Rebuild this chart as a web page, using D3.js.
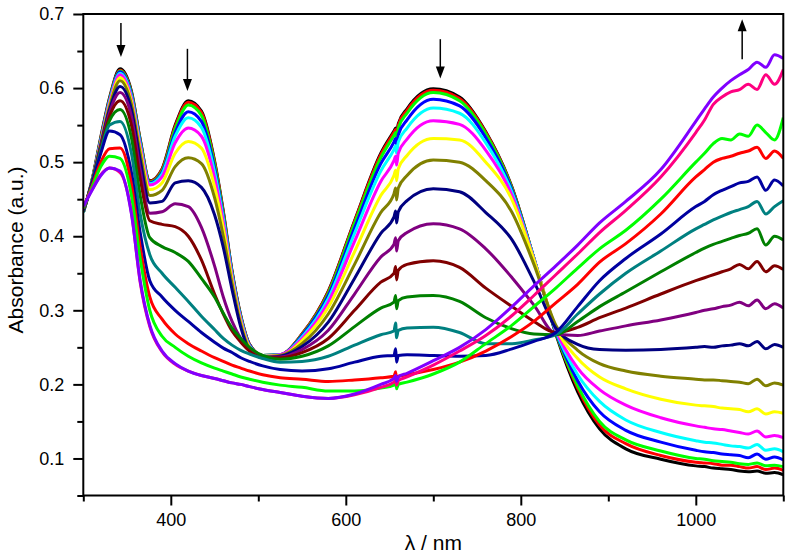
<!DOCTYPE html>
<html><head><meta charset="utf-8">
<script src="https://cdn.jsdelivr.net/npm/d3@7"></script>
<style>body{margin:0;background:#fff;} svg{display:block}</style>
</head><body><svg id="c" width="787" height="555"></svg>
<script>
// wavelength grid (nm)
const wavelengths = [300,310,320,330,342,355,365,376,390,405,420,435,450,460,470,480,490,505,525,550,580,610,640,
  655,657,658,660,
  670,700,730,760,790,815,840,865,890,920,960,
  1000,1010,1020,1030,1040,1050,1060,1070,1080,1090,1100];

// absorbance series (a.u.), in order of acquisition
const sBlack   = [0.432,0.476,0.534,0.587,0.626,0.596,0.531,0.475,0.491,0.550,0.583,0.569,0.502,0.434,0.353,0.293,0.254,0.239,0.240,0.268,0.326,0.421,0.512,
  0.542,0.546,0.538,0.552,
  0.572,0.599,0.588,0.541,0.466,0.370,0.268,0.190,0.140,0.113,0.099,
  0.090,0.089,0.087,0.086,0.085,0.083,0.082,0.083,0.080,0.081,0.078];
const sRed     = [0.432,0.475,0.532,0.585,0.624,0.594,0.530,0.474,0.490,0.548,0.581,0.567,0.500,0.432,0.352,0.292,0.254,0.239,0.240,0.268,0.325,0.420,0.510,
  0.540,0.544,0.536,0.550,
  0.570,0.597,0.586,0.540,0.465,0.370,0.270,0.195,0.145,0.120,0.104,
  0.095,0.094,0.093,0.091,0.091,0.089,0.087,0.089,0.085,0.087,0.084];
const sGreen   = [0.432,0.475,0.531,0.584,0.623,0.593,0.529,0.473,0.488,0.545,0.577,0.563,0.497,0.430,0.351,0.291,0.253,0.239,0.240,0.267,0.323,0.417,0.506,
  0.536,0.540,0.532,0.546,
  0.566,0.594,0.583,0.538,0.464,0.370,0.270,0.198,0.150,0.125,0.110,
  0.100,0.099,0.097,0.096,0.095,0.093,0.092,0.094,0.090,0.091,0.089];
const sBlue    = [0.432,0.474,0.530,0.583,0.622,0.591,0.527,0.472,0.486,0.540,0.568,0.555,0.492,0.427,0.350,0.290,0.253,0.239,0.240,0.266,0.320,0.411,0.498,
  0.527,0.532,0.522,0.537,
  0.557,0.585,0.576,0.533,0.462,0.370,0.271,0.205,0.163,0.138,0.122,
  0.111,0.109,0.108,0.106,0.105,0.104,0.101,0.106,0.099,0.102,0.098];
const sCyan    = [0.432,0.474,0.529,0.582,0.620,0.589,0.525,0.471,0.484,0.535,0.560,0.547,0.487,0.424,0.348,0.289,0.252,0.239,0.240,0.264,0.316,0.404,0.488,
  0.517,0.522,0.512,0.527,
  0.546,0.573,0.566,0.526,0.459,0.370,0.272,0.213,0.177,0.152,0.135,
  0.124,0.122,0.121,0.119,0.117,0.116,0.114,0.119,0.111,0.113,0.109];
const sMagenta = [0.433,0.474,0.528,0.580,0.618,0.586,0.522,0.469,0.480,0.526,0.546,0.535,0.479,0.419,0.345,0.287,0.251,0.238,0.240,0.262,0.311,0.393,0.474,
  0.502,0.508,0.496,0.512,
  0.531,0.556,0.551,0.516,0.455,0.369,0.274,0.222,0.193,0.172,0.155,
  0.144,0.142,0.140,0.139,0.137,0.135,0.133,0.137,0.129,0.131,0.128];
const sYellow  = [0.433,0.473,0.526,0.577,0.614,0.582,0.517,0.463,0.472,0.512,0.528,0.519,0.467,0.411,0.341,0.284,0.250,0.238,0.239,0.259,0.304,0.379,0.455,
  0.482,0.489,0.475,0.491,
  0.509,0.532,0.530,0.500,0.449,0.368,0.277,0.235,0.210,0.194,0.180,
  0.172,0.171,0.170,0.168,0.167,0.166,0.163,0.167,0.160,0.163,0.161];
const sDkYellow= [0.433,0.473,0.525,0.575,0.610,0.578,0.512,0.455,0.462,0.494,0.506,0.498,0.452,0.400,0.336,0.281,0.248,0.237,0.239,0.255,0.295,0.362,0.432,
  0.457,0.465,0.449,0.465,
  0.482,0.503,0.500,0.475,0.432,0.362,0.280,0.246,0.228,0.218,0.211,
  0.207,0.206,0.206,0.205,0.204,0.203,0.201,0.207,0.198,0.202,0.199];
const sNavy    = [0.434,0.473,0.523,0.571,0.602,0.571,0.503,0.445,0.447,0.472,0.475,0.466,0.429,0.385,0.328,0.277,0.246,0.236,0.238,0.251,0.284,0.343,0.404,
  0.426,0.434,0.418,0.433,
  0.448,0.464,0.460,0.432,0.395,0.339,0.276,0.254,0.247,0.246,0.247,
  0.250,0.251,0.250,0.252,0.253,0.255,0.252,0.258,0.248,0.254,0.250];
const sPurple  = [0.434,0.472,0.521,0.567,0.594,0.562,0.490,0.431,0.433,0.444,0.440,0.412,0.360,0.318,0.285,0.262,0.247,0.237,0.237,0.247,0.273,0.322,0.372,
  0.389,0.398,0.380,0.394,
  0.405,0.417,0.410,0.383,0.344,0.307,0.268,0.266,0.272,0.279,0.287,
  0.297,0.300,0.302,0.305,0.307,0.311,0.306,0.314,0.302,0.309,0.303];
const sWine    = [0.434,0.472,0.519,0.562,0.583,0.550,0.478,0.421,0.416,0.413,0.400,0.368,0.322,0.295,0.272,0.257,0.245,0.236,0.236,0.243,0.262,0.300,0.338,
  0.350,0.359,0.341,0.354,
  0.362,0.367,0.358,0.330,0.305,0.285,0.270,0.277,0.290,0.303,0.322,
  0.340,0.344,0.348,0.352,0.356,0.362,0.356,0.366,0.352,0.360,0.355];
const sOlive   = [0.434,0.472,0.517,0.556,0.571,0.533,0.455,0.398,0.386,0.378,0.366,0.343,0.318,0.296,0.276,0.262,0.250,0.239,0.234,0.238,0.252,0.278,0.303,
  0.311,0.320,0.302,0.313,
  0.318,0.320,0.312,0.290,0.275,0.268,0.267,0.285,0.305,0.325,0.352,
  0.378,0.384,0.389,0.393,0.397,0.401,0.404,0.410,0.388,0.400,0.395];
const sDkCyan  = [0.434,0.471,0.515,0.550,0.555,0.512,0.430,0.375,0.350,0.331,0.312,0.292,0.274,0.262,0.253,0.246,0.241,0.235,0.230,0.231,0.238,0.253,0.267,
  0.272,0.283,0.263,0.273,
  0.276,0.277,0.270,0.255,0.255,0.260,0.267,0.295,0.322,0.350,0.380,
  0.410,0.416,0.422,0.427,0.432,0.436,0.440,0.447,0.430,0.440,0.448];
const sRoyal   = [0.435,0.471,0.512,0.542,0.537,0.486,0.405,0.340,0.318,0.300,0.285,0.270,0.257,0.249,0.243,0.236,0.231,0.225,0.220,0.218,0.221,0.230,0.238,
  0.239,0.248,0.230,0.239,
  0.240,0.239,0.238,0.239,0.248,0.258,0.270,0.305,0.340,0.370,0.403,
  0.440,0.447,0.456,0.462,0.467,0.472,0.474,0.480,0.462,0.476,0.468];
const sRed2    = [0.437,0.468,0.500,0.518,0.519,0.470,0.385,0.318,0.288,0.268,0.255,0.245,0.236,0.231,0.226,0.222,0.218,0.213,0.209,0.207,0.204,0.206,0.209,
  0.211,0.217,0.205,0.211,
  0.213,0.220,0.230,0.245,0.265,0.285,0.310,0.335,0.365,0.390,0.430,
  0.480,0.490,0.500,0.505,0.508,0.512,0.515,0.520,0.505,0.515,0.505];
const sGreen2  = [0.438,0.466,0.494,0.508,0.505,0.455,0.370,0.300,0.265,0.250,0.238,0.229,0.222,0.218,0.214,0.210,0.207,0.203,0.199,0.196,0.191,0.191,0.195,
  0.199,0.204,0.194,0.200,
  0.203,0.214,0.230,0.255,0.280,0.305,0.330,0.357,0.383,0.408,0.450,
  0.500,0.512,0.525,0.532,0.530,0.538,0.535,0.550,0.540,0.530,0.560];
const sPink    = [0.440,0.463,0.483,0.492,0.486,0.432,0.338,0.278,0.244,0.227,0.218,0.212,0.208,0.205,0.202,0.200,0.197,0.193,0.189,0.184,0.181,0.186,0.196,
  0.203,0.207,0.199,0.205,
  0.210,0.226,0.245,0.266,0.293,0.320,0.348,0.376,0.405,0.435,0.480,
  0.540,0.557,0.578,0.588,0.595,0.598,0.605,0.598,0.618,0.605,0.625];
const sViolet  = [0.440,0.462,0.482,0.492,0.488,0.430,0.340,0.280,0.245,0.228,0.218,0.212,0.208,0.205,0.202,0.200,0.197,0.193,0.189,0.184,0.181,0.187,0.200,
  0.208,0.212,0.204,0.210,
  0.215,0.232,0.250,0.274,0.305,0.333,0.360,0.388,0.418,0.447,0.490,
  0.555,0.572,0.588,0.600,0.610,0.618,0.625,0.635,0.628,0.645,0.640];

const seriesColors = ["#000000","#FF0000","#00FF00","#0000FF","#00FFFF","#FF00FF","#FFFF00","#808000","#000080","#800080","#800000","#008000","#008080","#0000A0","#FF0000","#00FF00","#FF0080","#8000FF"];
const seriesData = [sBlack,sRed,sGreen,sBlue,sCyan,sMagenta,sYellow,sDkYellow,sNavy,sPurple,sWine,sOlive,sDkCyan,sRoyal,sRed2,sGreen2,sPink,sViolet];

const xTickValues = [400,600,800,1000];
const xMinorTicks = [300,500,700,900,1100];
const yTickValues = [0.1,0.2,0.3,0.4,0.5,0.6,0.7];
const yMinorTicks = [0.05,0.15,0.25,0.35,0.45,0.55,0.65];

// arrows: [wavelength, from, to]
const arrowsDown = [[343,0.688,0.642],[419,0.653,0.596],[708,0.666,0.613]];
const arrowsUp = [[1053,0.639,0.693]];

const svg = d3.select("#c");
const L = 83.3, R = 783.3, T = 14, B = 495.5;
const x = d3.scaleLinear().domain([300,1100]).range([L,R]);
const y = d3.scaleLinear().domain([0.05,0.7]).range([B,T]);
const font = "'Liberation Sans', Arial, sans-serif";

svg.append("defs").append("clipPath").attr("id","clip").append("rect")
  .attr("x",L).attr("y",T).attr("width",R-L).attr("height",B-T);
const plot = svg.append("g").attr("clip-path","url(#clip)");

const line = d3.line().x((d,i)=>x(wavelengths[i])).y(d=>y(d)).curve(d3.curveMonotoneX);
seriesData.forEach((s,k)=>{
  plot.append("path").attr("d",line(s)).attr("fill","none")
    .attr("stroke",seriesColors[k]).attr("stroke-width",3).attr("stroke-linejoin","round");
});

// axes
const xAxis = d3.axisBottom(x).tickValues(xTickValues).tickSize(10).tickPadding(8).tickFormat(d3.format("d"));
const xAxisMinor = d3.axisBottom(x).tickValues(xMinorTicks).tickSize(6).tickFormat("");
const yAxis = d3.axisLeft(y).tickValues(yTickValues).tickSize(10).tickPadding(9).tickFormat(d3.format(".1f"));
const yAxisMinor = d3.axisLeft(y).tickValues(yMinorTicks).tickSize(6).tickFormat("");

function style(g){
  g.select(".domain").remove();
  g.selectAll("line").attr("stroke","#000").attr("stroke-width",2);
  g.selectAll("text").attr("font-family",font).attr("font-size",18).attr("fill","#000");
}
svg.append("g").attr("transform",`translate(0,${B})`).call(xAxis).call(style);
svg.append("g").attr("transform",`translate(0,${B})`).call(xAxisMinor).call(style);
svg.append("g").attr("transform",`translate(${L},0)`).call(yAxis).call(style);
svg.append("g").attr("transform",`translate(${L},0)`).call(yAxisMinor).call(style);

// frame
svg.append("rect").attr("x",L).attr("y",T).attr("width",R-L).attr("height",B-T)
  .attr("fill","none").attr("stroke","#000").attr("stroke-width",2);

// titles
svg.append("text").attr("x",x(700)).attr("y",550).attr("text-anchor","middle")
  .attr("font-family",font).attr("font-size",21).text("λ / nm");
svg.append("text").attr("transform",`translate(23,250) rotate(-90)`).attr("text-anchor","middle")
  .attr("font-family",font).attr("font-size",21).text("Absorbance (a.u.)");

// arrows
function arrow(wl,v0,v1){
  const px = x(wl), y0 = y(v0), y1 = y(v1);
  const dir = Math.sign(y1-y0);
  svg.append("line").attr("x1",px).attr("x2",px).attr("y1",y0).attr("y2",y1-dir*10)
    .attr("stroke","#000").attr("stroke-width",1.5);
  svg.append("path").attr("d",`M${px-4.5},${y1-dir*12} L${px+4.5},${y1-dir*12} L${px},${y1} Z`).attr("fill","#000");
}
arrowsDown.forEach(a=>arrow(...a));
arrowsUp.forEach(a=>arrow(...a));
</script></body></html>
